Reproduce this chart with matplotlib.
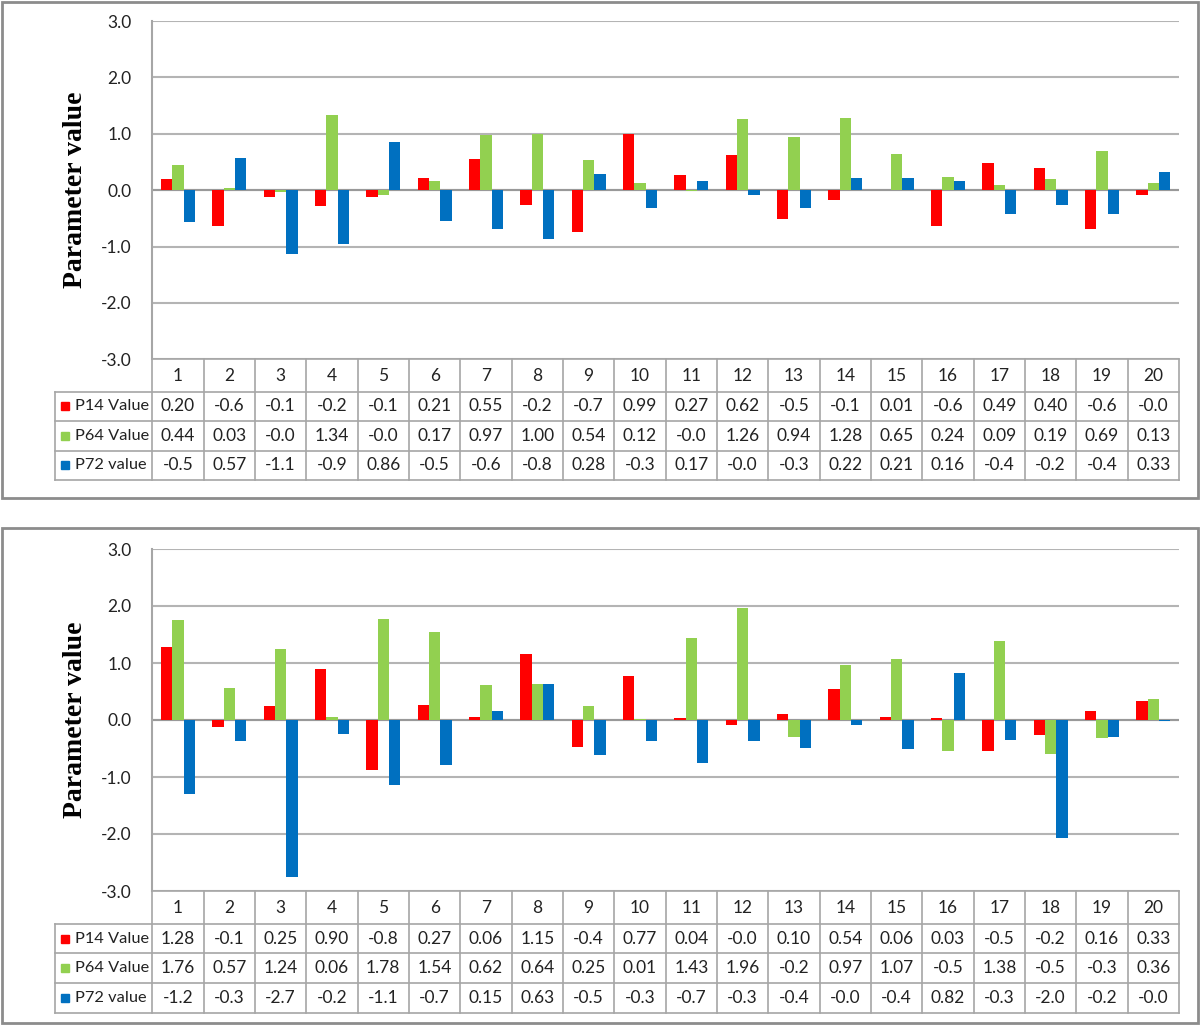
import numpy as np
import matplotlib
matplotlib.use("Agg")
import matplotlib.pyplot as plt
from matplotlib.patches import Rectangle

W, H = 1200, 1025

categories = [str(i) for i in range(1, 21)]
series_names = ["P14 Value", "P64 Value", "P72 value"]
colors = ["#FF0000", "#92D050", "#0070C0"]

# upper chart - bar heights
p14_top = [0.20, -0.64, -0.12, -0.28, -0.12, 0.21, 0.55, -0.27, -0.74, 0.99,
           0.27, 0.62, -0.52, -0.18, 0.01, -0.64, 0.49, 0.40, -0.69, -0.09]
p64_top = [0.44, 0.03, -0.03, 1.34, -0.08, 0.17, 0.97, 1.00, 0.54, 0.12,
           -0.02, 1.26, 0.94, 1.28, 0.65, 0.24, 0.09, 0.19, 0.69, 0.13]
p72_top = [-0.56, 0.57, -1.13, -0.95, 0.86, -0.55, -0.69, -0.86, 0.28, -0.32,
           0.17, -0.08, -0.32, 0.22, 0.21, 0.16, -0.43, -0.27, -0.43, 0.33]

# upper chart - data table text as printed
t14_top = ["0.20", "-0.6", "-0.1", "-0.2", "-0.1", "0.21", "0.55", "-0.2", "-0.7", "0.99",
           "0.27", "0.62", "-0.5", "-0.1", "0.01", "-0.6", "0.49", "0.40", "-0.6", "-0.0"]
t64_top = ["0.44", "0.03", "-0.0", "1.34", "-0.0", "0.17", "0.97", "1.00", "0.54", "0.12",
           "-0.0", "1.26", "0.94", "1.28", "0.65", "0.24", "0.09", "0.19", "0.69", "0.13"]
t72_top = ["-0.5", "0.57", "-1.1", "-0.9", "0.86", "-0.5", "-0.6", "-0.8", "0.28", "-0.3",
           "0.17", "-0.0", "-0.3", "0.22", "0.21", "0.16", "-0.4", "-0.2", "-0.4", "0.33"]

# lower chart
p14_bot = [1.28, -0.12, 0.25, 0.90, -0.87, 0.27, 0.06, 1.15, -0.48, 0.77,
           0.04, -0.09, 0.10, 0.54, 0.06, 0.03, -0.54, -0.26, 0.16, 0.33]
p64_bot = [1.76, 0.57, 1.24, 0.06, 1.78, 1.54, 0.62, 0.64, 0.25, 0.01,
           1.43, 1.96, -0.29, 0.97, 1.07, -0.54, 1.38, -0.59, -0.31, 0.36]
p72_bot = [-1.29, -0.37, -2.75, -0.24, -1.14, -0.79, 0.15, 0.63, -0.61, -0.37,
           -0.76, -0.37, -0.49, -0.08, -0.51, 0.82, -0.35, -2.07, -0.29, -0.02]

t14_bot = ["1.28", "-0.1", "0.25", "0.90", "-0.8", "0.27", "0.06", "1.15", "-0.4", "0.77",
           "0.04", "-0.0", "0.10", "0.54", "0.06", "0.03", "-0.5", "-0.2", "0.16", "0.33"]
t64_bot = ["1.76", "0.57", "1.24", "0.06", "1.78", "1.54", "0.62", "0.64", "0.25", "0.01",
           "1.43", "1.96", "-0.2", "0.97", "1.07", "-0.5", "1.38", "-0.5", "-0.3", "0.36"]
t72_bot = ["-1.2", "-0.3", "-2.7", "-0.2", "-1.1", "-0.7", "0.15", "0.63", "-0.5", "-0.3",
           "-0.7", "-0.3", "-0.4", "-0.0", "-0.4", "0.82", "-0.3", "-2.0", "-0.2", "-0.0"]

yticks = [-3.0, -2.0, -1.0, 0.0, 1.0, 2.0, 3.0]

GRID = "#B4B4B4"
LINE = "#A6A6A6"
FONT = "Lato"


def rect(x0, y0, x1, y1):
    # pixel box -> figure fraction
    return [x0 / W, 1 - y1 / H, (x1 - x0) / W, (y1 - y0) / H]


def draw_panel(fig, frame, plot_box, table_bottom, values, texts):
    fx0, fy0, fx1, fy1 = frame
    fig.patches.append(Rectangle((fx0 / W, 1 - fy1 / H), (fx1 - fx0) / W, (fy1 - fy0) / H,
                                 transform=fig.transFigure, fill=False,
                                 edgecolor="#8C8C8C", linewidth=2))

    px0, py0, px1, py1 = plot_box
    ax = fig.add_axes(rect(px0, py0, px1, py1))
    x = np.arange(1, 21)
    w = 2 / 9
    for k, (vals, col) in enumerate(zip(values, colors)):
        ax.bar(x + (k - 1) * w, vals, w, color=col, zorder=3, linewidth=0)
    ax.set_xlim(0.5, 20.5)
    ax.set_ylim(-3, 3)
    ax.set_yticks(yticks)
    ax.set_yticklabels([f"{v:.1f}" for v in yticks], fontsize=12.5, family=FONT, color="#222222")
    ax.set_xticks([])
    ax.tick_params(axis="y", length=0, pad=15)
    ax.yaxis.grid(True, color=GRID, linewidth=1.5, zorder=0)
    ax.set_axisbelow(True)
    ax.axhline(0, color="#999999", linewidth=1.5, zorder=2)
    for s in ["top", "right", "bottom"]:
        ax.spines[s].set_visible(False)
    ax.spines["left"].set_color(LINE)
    ax.spines["left"].set_linewidth(1.5)

    fig.text(75 / W, 1 - (py0 + py1) / 2 / H, "Parameter value", rotation=90,
             ha="center", va="center", fontsize=20, fontweight="bold",
             family="Liberation Serif")

    # data table under the chart
    lab_x0 = 55.3
    cw = (px1 - px0) / 20
    lab_w = (px0 - lab_x0) / cw
    tab = fig.add_axes(rect(lab_x0, py1, px1, table_bottom))
    th = table_bottom - py1
    tab.set_xlim(-lab_w, 20)
    tab.set_ylim(th, 0)
    tab.axis("off")
    head = th * 0.268
    rows = [head + (th - head) * i / 3 for i in range(4)]
    lk = dict(color=LINE, linewidth=1.2, clip_on=False)
    tab.plot([0, 20], [0, 0], **lk)
    for r in rows:
        tab.plot([-lab_w, 20], [r, r], **lk)
    for i in range(21):
        tab.plot([i, i], [0, th], **lk)
    tab.plot([-lab_w, -lab_w], [head, th], **lk)

    for i, c in enumerate(categories):
        tab.text(i + 0.5, head / 2 + 1, c, ha="center", va="center",
                 fontsize=12.5, family=FONT, color="#222222")
    for j in range(3):
        yc = (rows[j] + rows[j + 1]) / 2
        tab.plot(-lab_w + 0.18, yc, marker="s", markersize=5.5, color=colors[j],
                 linestyle="none", clip_on=False)
        tab.text(-lab_w + 0.38, yc, series_names[j], ha="left", va="center",
                 fontsize=11.8, family=FONT, color="#222222")
        for i, t in enumerate(texts[j]):
            tab.text(i + 0.5, yc, t, ha="center", va="center",
                     fontsize=12.5, family=FONT, color="#222222")
    return ax


fig = plt.figure(figsize=(W / 100, H / 100), dpi=100)
fig.patch.set_facecolor("white")

draw_panel(fig, (2, 2, 1198, 498), (152.3, 21, 1179, 359.3), 480,
           [p14_top, p64_top, p72_top], [t14_top, t64_top, t72_top])
draw_panel(fig, (2, 528, 1198, 1023), (152.3, 549, 1179, 891), 1013,
           [p14_bot, p64_bot, p72_bot], [t14_bot, t64_bot, t72_bot])

fig.savefig("out.png", dpi=100, facecolor="white")
